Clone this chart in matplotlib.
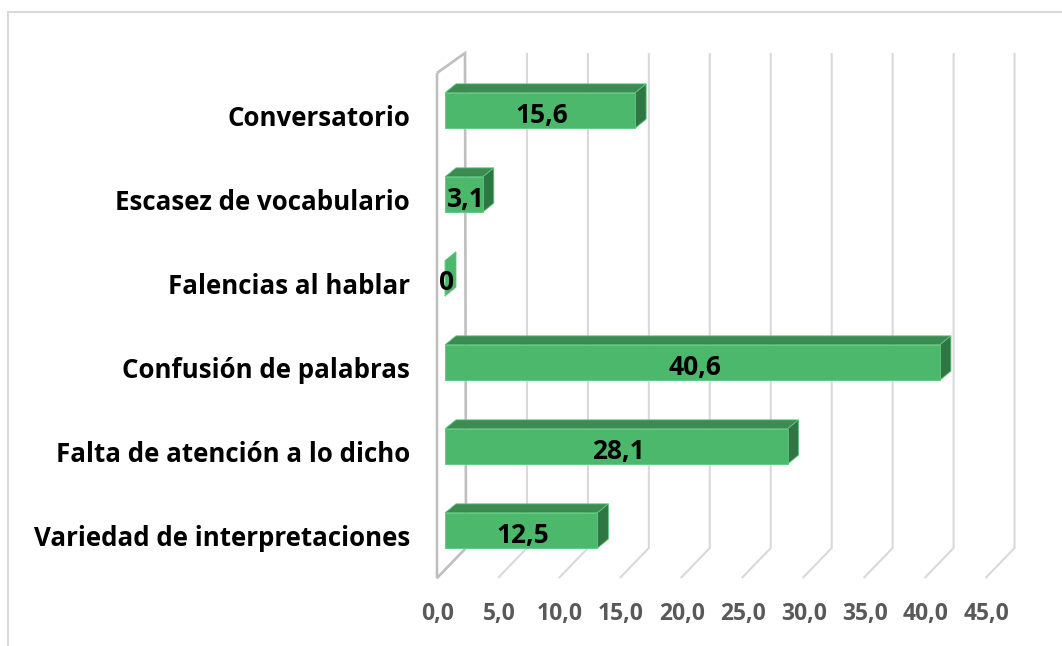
import numpy as np
import matplotlib
matplotlib.use("Agg")
import matplotlib.pyplot as plt
from matplotlib.patches import Polygon
from matplotlib.lines import Line2D
from matplotlib.transforms import IdentityTransform, offset_copy, blended_transform_factory

# data (top to bottom as shown)
categories = ["Conversatorio", "Escasez de vocabulario", "Falencias al hablar",
              "Confusión de palabras", "Falta de atención a lo dicho",
              "Variedad de interpretaciones"]
values = [15.6, 3.1, 0, 40.6, 28.1, 12.5]
ticks = [0, 5, 10, 15, 20, 25, 30, 35, 40, 45]
tick_labels = ["0,0", "5,0", "10,0", "15,0", "20,0", "25,0", "30,0", "35,0", "40,0", "45,0"]

W, H = 1062, 646
fig = plt.figure(figsize=(W / 100, H / 100), dpi=100)

# bar plane: x=0 at 445 px, 12.19 px per unit; rows 84 px apart
x0, ppu, step = 445, 12.19, 84
cy_bottom = 530.5  # centre of lowest bar, px from top
ax = fig.add_axes([x0 / W, (H - (cy_bottom + step / 2)) / H,
                   45 * ppu / W, 6 * step / H])
ax.set_xlim(0, 45)
ax.set_ylim(-0.5, 5.5)
ax.axis("off")

FONT = "Open Sans"
front_c, top_c, side_c = "#4cb86c", "#3b8b52", "#2f7644"
grid_c, wall_c = "#d9d9d9", "#bfbfbf"
dx, dy = 11, 9      # bar depth in px
back = 21           # back wall offset in px
floor = 29          # floor depth in px


def P(x, y, ox=0, oy=0):
    px, py = ax.transData.transform((x, y))
    return (px + ox, py + oy)


def Y(top):  # px from top -> display
    return H - top


def add_line(xs, ys, color, lw, z, target=ax):
    ln = Line2D(xs, ys, color=color, lw=lw, transform=IdentityTransform(),
                zorder=z, solid_capstyle="butt", solid_joinstyle="miter", clip_on=False)
    target.add_artist(ln)


# gridlines and floor
for v in ticks[1:]:
    xb = P(v, 0)[0] + back
    add_line([xb, xb, xb - floor], [Y(53), Y(548), Y(578)], grid_c, 1.5, 1)

# left wall
xb0 = P(0, 0)[0] + back
add_line([xb0 - floor, xb0 - 1, xb0, xb0 - floor, xb0 - floor],
         [Y(73), Y(53), Y(548), Y(578), Y(73)], wall_c, 1.9, 2)

# bars
h = 0.42
for i, (cat, v) in enumerate(zip(categories, values)):
    y = len(categories) - 1 - i
    lo, hi = y - h / 2, y + h / 2
    top = [P(0, hi), P(v, hi), P(v, hi, dx, dy), P(0, hi, dx, dy)]
    side = [P(v, lo), P(v, lo, dx, dy), P(v, hi, dx, dy), P(v, hi)]
    front = [P(0, lo), P(v, lo), P(v, hi), P(0, hi)]
    for pts, c in [(top, top_c), (side, side_c if v > 0 else front_c), (front, front_c)]:
        ax.add_artist(Polygon(pts, closed=True, facecolor=c, edgecolor="#5cc87c",
                              lw=0.6, transform=IdentityTransform(), zorder=5, clip_on=False))
    lab = "0" if v == 0 else f"{v:.1f}".replace(".", ",")
    ax.text(v / 2, y, lab, transform=offset_copy(ax.transData, fig=fig, x=2, y=-12, units="dots"),
            ha="center", va="baseline", fontsize=19, fontweight="bold", family=FONT,
            color="black", zorder=10)
    ax.text(0, y, cat, transform=offset_copy(ax.transData, fig=fig, x=-35, y=-15, units="dots"),
            ha="right", va="baseline", fontsize=18.6, fontweight="bold", family=FONT,
            color="black", zorder=10)

# x tick labels at the floor front
bt = blended_transform_factory(ax.transData, IdentityTransform())
for v, t in zip(ticks, tick_labels):
    ax.text(v, Y(620), t, transform=offset_copy(bt, fig=fig, x=-7, y=0, units="dots"),
            ha="center", va="baseline", fontsize=16.5, fontweight="bold", family=FONT,
            color="#595959")

# chart frame
add_line([8, 8, W], [0, Y(12), Y(12)], grid_c, 1.5, 0, target=fig)

fig.savefig("out.png", dpi=100)
